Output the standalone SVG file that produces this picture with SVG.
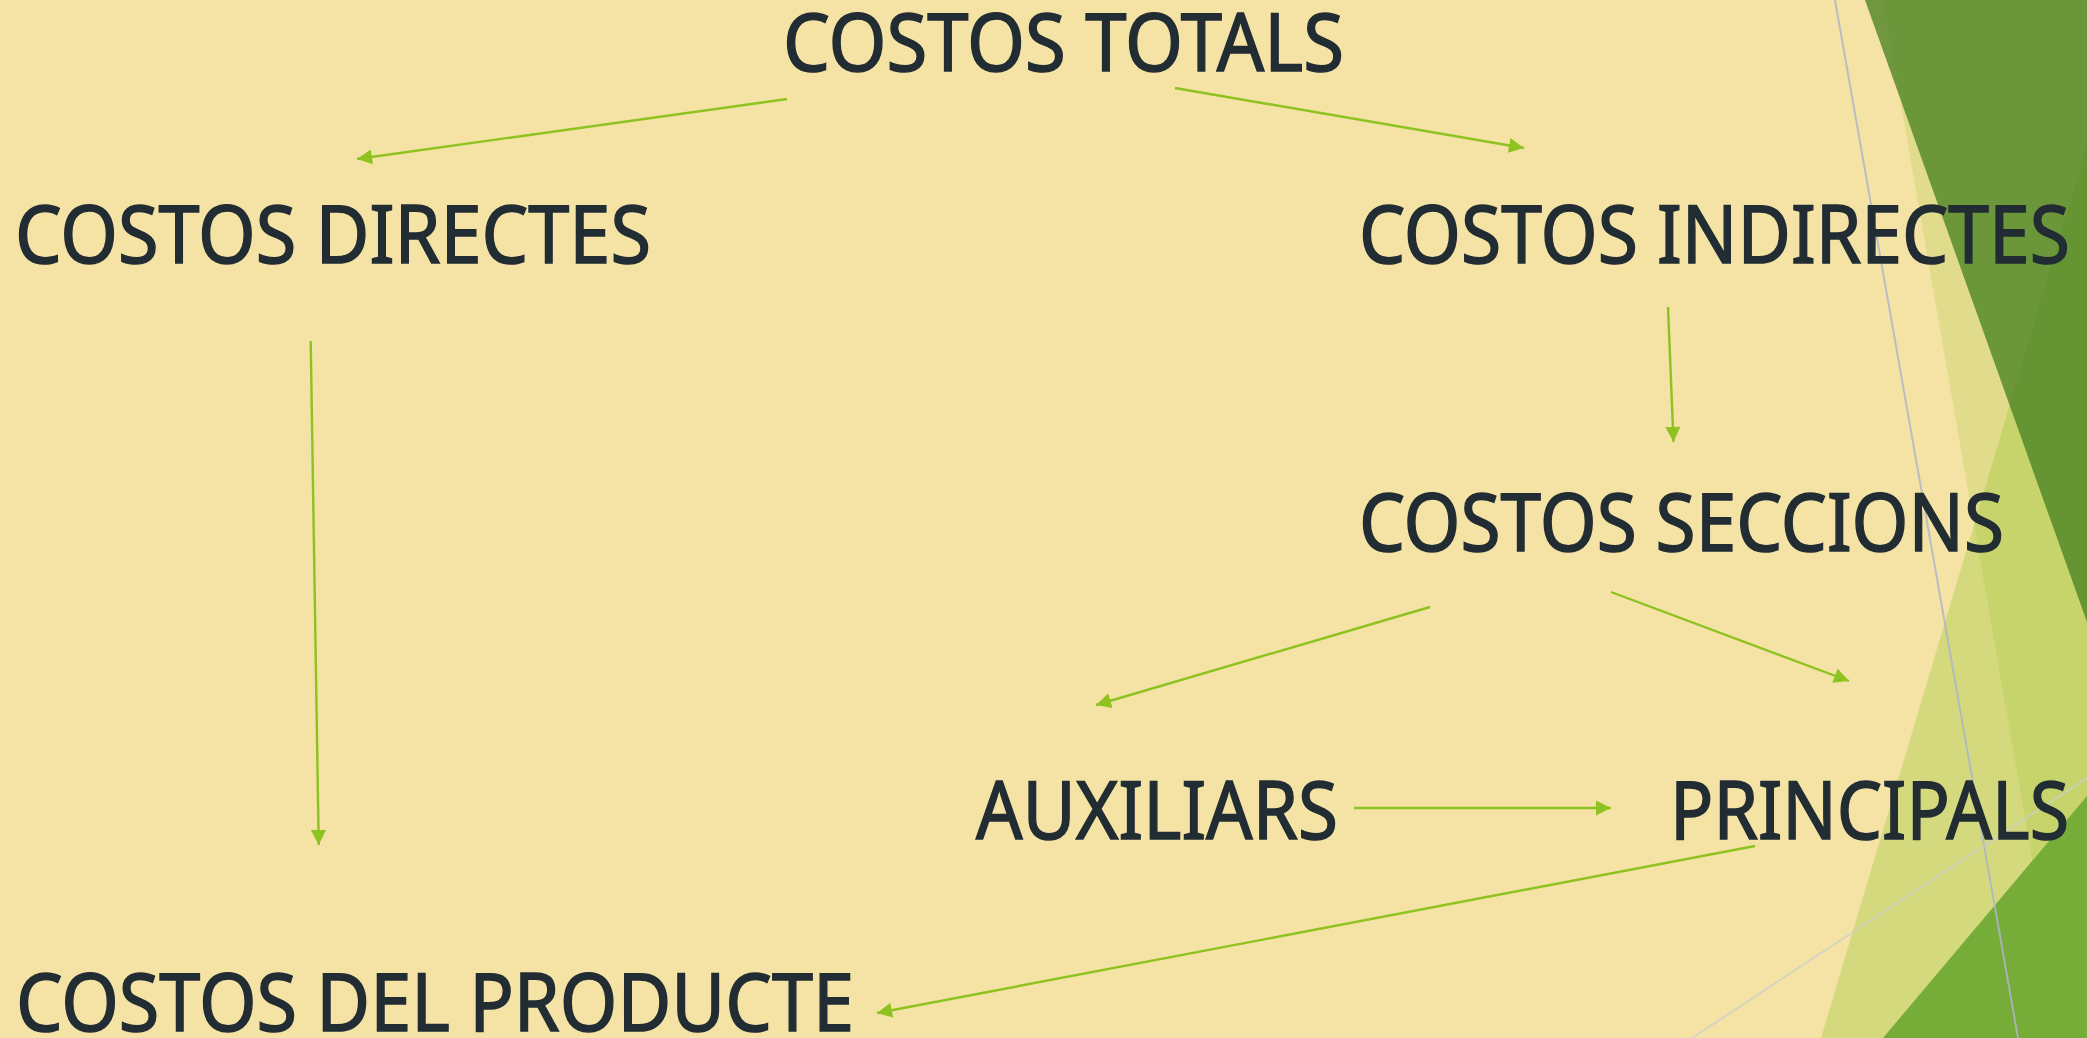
<svg xmlns="http://www.w3.org/2000/svg" width="2087" height="1038" viewBox="0 0 2087 1038">
  <defs>
    <style>
      .lbl { font-family: "Noto Sans", "Open Sans", "DejaVu Sans", sans-serif; font-size: 81px; fill: #212C33; stroke: #212C33; stroke-width: 1.5; }
      .conn { stroke: #8DC21F; stroke-width: 2.4; fill: none; marker-end: url(#arrow); }
    </style>
    <marker id="arrow" viewBox="0 0 10 10" refX="10" refY="5" markerWidth="16" markerHeight="15" markerUnits="userSpaceOnUse" orient="auto">
      <path d="M0,0 L10,5 L0,10 z" fill="#8DC21F"/>
    </marker>
  </defs>

  <g id="background">
    <rect x="0" y="0" width="2087" height="1038" fill="#F4E3A5"/>
    <polygon points="1883,0 2087,0 2087,1038 2063,1038" fill="#90C226" opacity="0.2"/>
    <polygon points="2087,146 2087,1038 1821,1038" fill="#90C226" opacity="0.3"/>
    <polygon points="1865,0 2087,0 2087,622" fill="#46801F" opacity="0.76"/>
    <polygon points="1883,1038 2087,796 2087,1038" fill="#76AC38"/>
    <line x1="1835" y1="0" x2="2018" y2="1038" stroke="#AEB8C8" stroke-width="2" opacity="0.85"/>
    <line x1="1692" y1="1038" x2="2087" y2="778" stroke="#C9CFD2" stroke-width="1.6" opacity="0.85"/>
  </g>

  <g id="connectors">
    <line class="conn" x1="787" y1="99" x2="357" y2="159"/>
    <line class="conn" x1="1175" y1="88" x2="1524" y2="148"/>
    <line class="conn" x1="1668" y1="307" x2="1673.5" y2="442"/>
    <line class="conn" x1="310.7" y1="341" x2="318.7" y2="845"/>
    <line class="conn" x1="1430" y1="607" x2="1096" y2="705"/>
    <line class="conn" x1="1611" y1="592" x2="1849" y2="681"/>
    <line class="conn" x1="1354" y1="808" x2="1611" y2="808"/>
    <line class="conn" x1="1755" y1="846" x2="877" y2="1013"/>
  </g>

  <g id="node-costos-totals"><text class="lbl" x="783" y="71" textLength="561" lengthAdjust="spacingAndGlyphs">COSTOS TOTALS</text></g>
  <g id="node-costos-directes"><text class="lbl" x="15" y="263" textLength="636" lengthAdjust="spacingAndGlyphs">COSTOS DIRECTES</text></g>
  <g id="node-costos-indirectes"><text class="lbl" x="1359" y="263" textLength="711" lengthAdjust="spacingAndGlyphs">COSTOS INDIRECTES</text></g>
  <g id="node-costos-seccions"><text class="lbl" x="1359" y="551" textLength="645" lengthAdjust="spacingAndGlyphs">COSTOS SECCIONS</text></g>
  <g id="node-auxiliars"><text class="lbl" x="976" y="839" textLength="362" lengthAdjust="spacingAndGlyphs">AUXILIARS</text></g>
  <g id="node-principals"><text class="lbl" x="1670" y="839" textLength="399" lengthAdjust="spacingAndGlyphs">PRINCIPALS</text></g>
  <g id="node-costos-del-producte"><text class="lbl" x="16" y="1031" textLength="838" lengthAdjust="spacingAndGlyphs">COSTOS DEL PRODUCTE</text></g>
</svg>
